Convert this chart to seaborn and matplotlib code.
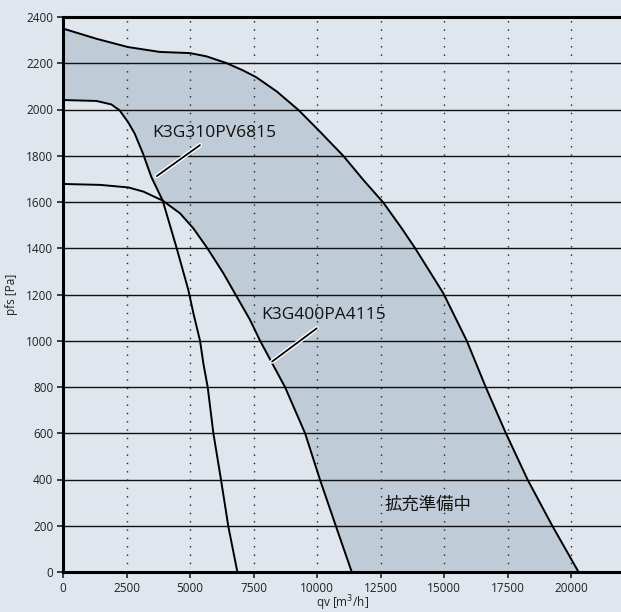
import numpy as np
import pandas as pd
import matplotlib
matplotlib.use("Agg")
import matplotlib.pyplot as plt
import matplotlib.patheffects as pe
import seaborn as sns

# curve readings: qv [m3/h] vs pfs [Pa]
outer_qv = [0, 1312, 2558, 3805, 4986, 5642, 6429, 7085, 7600, 8412, 9265, 10052,
            11036, 11823, 12610, 13332, 13860, 14970, 15890, 16640, 17430, 18290,
            19260, 20290]
outer_pfs = [2350, 2306, 2270, 2249, 2244, 2230, 2201, 2169, 2140, 2078, 1998, 1911,
             1799, 1695, 1597, 1486, 1400, 1205, 1000, 799, 600, 398, 199, 0]

k310_qv = [0, 1312, 1902, 2230, 2558, 2821, 3149, 3477, 3924, 4475, 4934, 5131,
           5393, 5524, 5695, 5918, 6220, 6508, 6863]
k310_pfs = [2041, 2037, 2022, 1996, 1946, 1896, 1809, 1708, 1606, 1400, 1219, 1119,
            1000, 902, 799, 600, 398, 196, 0]

k400_qv = [0, 1457, 2572, 3163, 3924, 4606, 5131, 5682, 6311, 6836, 7362,
           7756, 8740, 9527, 10117, 10747, 11364]
k400_pfs = [1678, 1674, 1663, 1645, 1606, 1551, 1486, 1400, 1292, 1191, 1090,
            1000, 799, 600, 398, 196, 0]

cross_qv = 3924  # where the two fan curves meet

x_ticks = [0, 2500, 5000, 7500, 10000, 12500, 15000, 17500, 20000]
y_ticks = list(range(0, 2401, 200))

bg = "#e0e6ed"
shade = "#bfcbd6"

sns.set_style("ticks")
plt.rcParams["font.family"] = ["Open Sans", "Noto Sans CJK JP", "DejaVu Sans"]

fig = plt.figure(figsize=(6.21, 6.12), dpi=100, facecolor=bg)
ax = fig.add_axes([63 / 621, 40 / 612, 559 / 621, 555 / 612])
ax.set_facecolor(bg)

# shaded envelope: outer curve, back along K3G400 then K3G310
poly_x = list(outer_qv)
poly_y = list(outer_pfs)
for q, p in reversed(list(zip(k400_qv, k400_pfs))):
    if q >= cross_qv:
        poly_x.append(q)
        poly_y.append(p)
for q, p in reversed(list(zip(k310_qv, k310_pfs))):
    if q < cross_qv:
        poly_x.append(q)
        poly_y.append(p)
ax.fill(poly_x, poly_y, color=shade, lw=0, zorder=1)

# grid
for y in y_ticks[1:-1]:
    ax.axhline(y, color="#111111", lw=1.0, zorder=2)
for x in x_ticks[1:]:
    ax.axvline(x, color="#222222", lw=1.0, ls=(0, (1, 5)), zorder=2)

curves = pd.concat([
    pd.DataFrame({"qv": outer_qv, "pfs": outer_pfs, "fan": "outer"}),
    pd.DataFrame({"qv": k310_qv, "pfs": k310_pfs, "fan": "K3G310PV6815"}),
    pd.DataFrame({"qv": k400_qv, "pfs": k400_pfs, "fan": "K3G400PA4115"}),
])
sns.lineplot(data=curves, x="qv", y="pfs", units="fan", estimator=None, sort=False,
             color="black", lw=1.4, ax=ax, zorder=3)

halo = [pe.Stroke(linewidth=3.2, foreground="white"), pe.Normal()]
ax.plot([3690, 5390], [1712, 1846], color="black", lw=1.3, zorder=4, path_effects=halo)
ax.plot([8230, 9990], [910, 1054], color="black", lw=1.3, zorder=4, path_effects=halo)
ax.text(3500, 1900, "K3G310PV6815", fontsize=12.5, va="center", ha="left",
        color="#111111", zorder=5)
ax.text(7800, 1110, "K3G400PA4115", fontsize=12.5, va="center", ha="left",
        color="#111111", zorder=5)
ax.text(14350, 290, "拡充準備中", fontsize=12.5, va="center", ha="center", zorder=5,
        color="#111111", family=["Noto Sans CJK JP", "DejaVu Sans"])

ax.set_xlim(0, 22000)
ax.set_ylim(0, 2400)
ax.set_xticks(x_ticks)
ax.set_yticks(y_ticks)
ax.tick_params(axis="both", labelsize=8.5, colors="#222222", length=4, width=1.2,
               direction="out", pad=3)
ax.set_xlabel("qv [m$^3$/h]", fontsize=8.5, color="#222222", labelpad=-1)
ax.set_ylabel("pfs [Pa]", fontsize=8.5, color="#222222", labelpad=6)

for side in ["left", "top", "bottom"]:
    ax.spines[side].set_linewidth(2.2)
    ax.spines[side].set_color("black")
ax.spines["right"].set_visible(False)

fig.savefig("out.png", dpi=100, facecolor=bg)
